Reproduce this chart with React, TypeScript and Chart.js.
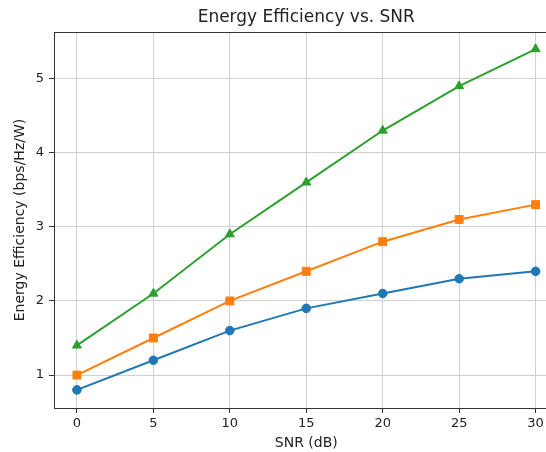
import React, { useEffect, useRef } from "react";
import { Chart, registerables } from "chart.js";

Chart.register(...registerables);

const snr = [0, 5, 10, 15, 20, 25, 30];
const seriesA = [0.8, 1.2, 1.6, 1.9, 2.1, 2.3, 2.4];
const seriesB = [1.0, 1.5, 2.0, 2.4, 2.8, 3.1, 3.3];
const seriesC = [1.4, 2.1, 2.9, 3.6, 4.3, 4.9, 5.4];
const xTicks = [0, 5, 10, 15, 20, 25, 30];
const yTicks = [1, 2, 3, 4, 5];
const titleText = "Energy Efficiency vs. SNR";
const xLabel = "SNR (dB)";
const yLabel = "Energy Efficiency (bps/Hz/W)";

const FONT = "'DejaVu Sans', sans-serif";

const noPad = (s: any) => {
  s.paddingLeft = 0;
  s.paddingRight = 0;
  s.paddingTop = 0;
  s.paddingBottom = 0;
  s.getPadding = () => ({ left: 0, right: 0, top: 0, bottom: 0 });
};

export default function App() {
  const ref = useRef<HTMLCanvasElement | null>(null);

  useEffect(() => {
    if (!ref.current) return;
    const frame = {
      id: "frame",
      afterDraw(chart: any) {
        const { ctx, chartArea } = chart;
        const xs = chart.scales.x;
        const axesRight = xs.getPixelForValue(31.5);
        const cx = (chartArea.left + axesRight) / 2;
        ctx.save();
        ctx.strokeStyle = "#333333";
        ctx.lineWidth = 1;
        ctx.beginPath();
        ctx.moveTo(chartArea.left, chartArea.top + 0.5);
        ctx.lineTo(chartArea.right, chartArea.top + 0.5);
        ctx.stroke();
        ctx.fillStyle = "#222222";
        ctx.textAlign = "center";
        ctx.textBaseline = "middle";
        ctx.font = "17px " + FONT;
        ctx.fillText(titleText, cx, 18);
        ctx.font = "14px " + FONT;
        ctx.fillText(xLabel, cx, 443);
        ctx.restore();
      },
    };
    const mk = (data: number[], color: string, style: string, r: number) => ({
      data: snr.map((x, i) => ({ x, y: data[i] })),
      borderColor: color,
      backgroundColor: color,
      borderWidth: 2,
      pointStyle: style,
      pointRadius: r,
      pointBorderWidth: 1,
      pointBackgroundColor: color,
      pointBorderColor: color,
      tension: 0,
      clip: false,
    });
    const chart = new Chart(ref.current, {
      type: "line",
      data: {
        datasets: [
          mk(seriesA, "#1f77b4", "circle", 4.3),
          mk(seriesB, "#ff7f0e", "rect", 5.6),
          mk(seriesC, "#2ca02c", "triangle", 5.2),
        ] as any,
      },
      plugins: [frame],
      options: {
        animation: false,
        responsive: false,
        devicePixelRatio: 1,
        layout: { autoPadding: false, padding: { left: 0, right: 0, top: 32, bottom: 0 } },
        plugins: {
          legend: { display: false },
          tooltip: { enabled: false },
          title: { display: false },
        },
        scales: {
          x: {
            type: "linear",
            min: -1.5,
            max: 30.68,
            afterFit: (s: any) => {
              s.height = 44;
              noPad(s);
            },
            afterBuildTicks: (s: any) => {
              s.ticks = xTicks.map((v) => ({ value: v }));
            },
            ticks: {
              color: "#222222",
              font: { family: FONT, size: 13 },
              padding: 3,
              maxRotation: 0,
              autoSkip: false,
            },
            grid: {
              color: "#d0d0d0",
              lineWidth: 1,
              tickColor: "#333333",
              tickLength: 5,
            },
            border: { display: true, color: "#333333", width: 1 },
            title: { display: false },
          },
          y: {
            type: "linear",
            min: 0.555,
            max: 5.63,
            afterFit: (s: any) => {
              s.width = 54;
              noPad(s);
            },
            afterBuildTicks: (s: any) => {
              s.ticks = yTicks.map((v) => ({ value: v }));
            },
            ticks: {
              color: "#222222",
              font: { family: FONT, size: 13 },
              padding: 5,
              autoSkip: false,
            },
            grid: {
              color: "#d0d0d0",
              lineWidth: 1,
              tickColor: "#333333",
              tickLength: 5,
            },
            border: { display: true, color: "#333333", width: 1 },
            title: {
              display: true,
              text: yLabel,
              color: "#222222",
              font: { family: FONT, size: 14 },
              padding: { top: 11.5, bottom: 0 },
            },
          },
        },
      } as any,
    });
    return () => chart.destroy();
  }, []);

  return (
    <div style={{ position: "fixed", left: 0, top: 0, width: 546, height: 452, overflow: "hidden", background: "#fff" }}>
      <canvas ref={ref} width={546} height={452} style={{ display: "block" }} />
    </div>
  );
}
